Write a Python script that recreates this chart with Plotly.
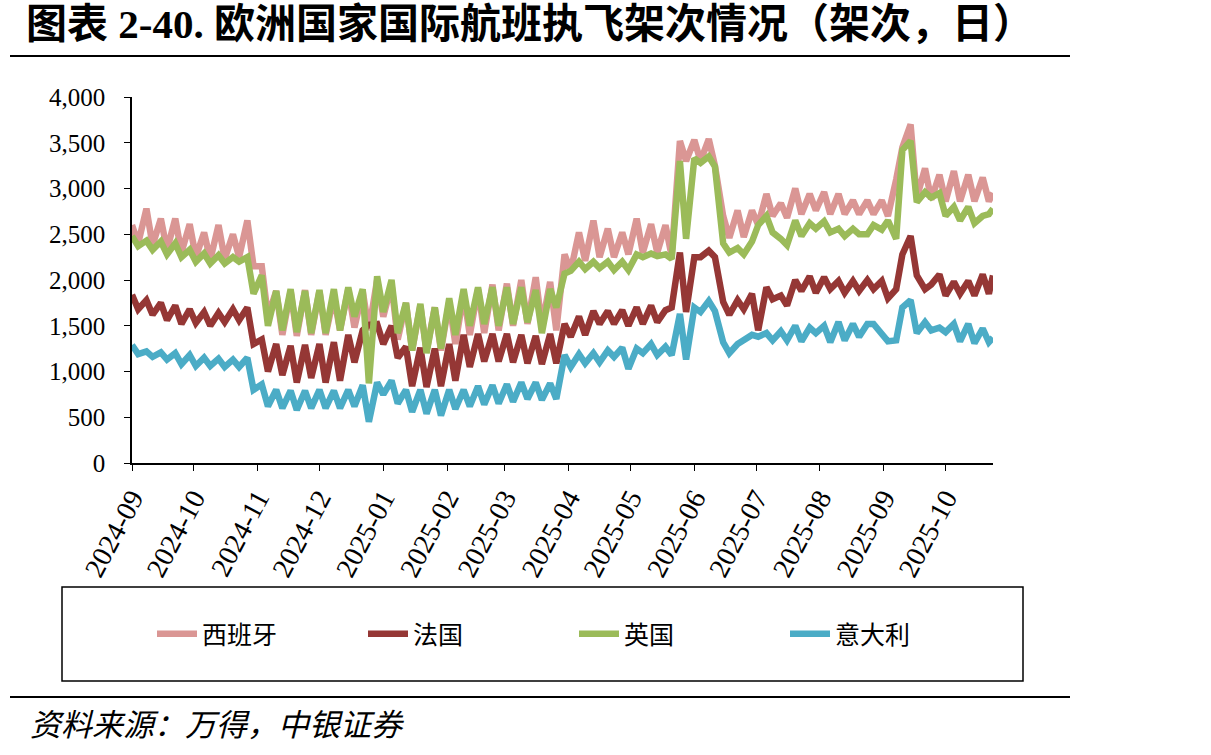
import pandas as pd
import plotly.graph_objects as go

# Sample days (offset from 2024-09-01): two points per week plus the last day
day_offsets = [d for k in range(60) for d in (7 * k, 7 * k + 3)] + [418]
start_date = "2024-09-01"

spain = [2600, 2400, 2780, 2380, 2670, 2330, 2670, 2300, 2610, 2250, 2520, 2220,
         2600, 2230, 2500, 2250, 2650, 2150, 2150, 1600, 1880, 1400, 1880, 1390,
         1890, 1400, 1880, 1400, 1820, 1450, 1900, 1480, 1880, 1450, 2000, 1600,
         1950, 1350, 1750, 1230, 1720, 1220, 1700, 1230, 1760, 1300, 1850, 1400,
         1900, 1420, 1950, 1450, 1960, 1500, 2000, 1520, 2030, 1500, 1980, 1450,
         2280, 2100, 2520, 2210, 2650, 2250, 2560, 2250, 2520, 2280, 2670, 2300,
         2610, 2300, 2600, 2260, 3520, 3300, 3530, 3300, 3540, 3250, 2700, 2460,
         2760, 2470, 2760, 2600, 2940, 2700, 2840, 2680, 3000, 2720, 2940, 2760,
         2960, 2720, 2940, 2720, 2870, 2720, 2870, 2720, 2870, 2700, 3100, 3450,
         3700, 2900, 3220, 2880, 3150, 2860, 3190, 2860, 3150, 2860, 3120, 2860,
         2950]

france = [1840, 1680, 1780, 1620, 1750, 1560, 1720, 1520, 1680, 1530, 1650, 1500,
          1640, 1540, 1680, 1560, 1700, 1300, 1350, 1000, 1300, 960, 1280, 880,
          1290, 930, 1300, 880, 1320, 900, 1400, 1100, 1450, 1510, 1520, 1300,
          1500, 1150, 1270, 840, 1260, 830, 1250, 840, 1300, 900, 1400, 1050,
          1410, 1110, 1410, 1110, 1410, 1100, 1400, 1090, 1390, 1080, 1410, 1090,
          1520, 1380, 1600, 1400, 1660, 1520, 1660, 1520, 1670, 1500, 1700, 1520,
          1720, 1540, 1670, 1700, 2300, 1650, 2250, 2250, 2320, 2250, 1760, 1620,
          1780, 1680, 1850, 1450, 1920, 1790, 1830, 1720, 2000, 1880, 2040, 1860,
          2030, 1900, 1990, 1860, 1990, 1880, 2000, 1900, 1990, 1800, 1900, 2280,
          2480, 2050, 1900, 1950, 2060, 1830, 1980, 1850, 1990, 1830, 2060, 1850,
          2050]

uk = [2480, 2370, 2430, 2330, 2420, 2280, 2400, 2250, 2330, 2200, 2290, 2180,
      2270, 2180, 2250, 2200, 2250, 1850, 2050, 1500, 1880, 1450, 1900, 1430,
      1880, 1420, 1890, 1420, 1900, 1450, 1920, 1600, 1900, 870, 2040, 1650,
      2000, 1420, 1750, 1230, 1740, 1200, 1700, 1250, 1800, 1400, 1900, 1500,
      1920, 1520, 1920, 1500, 1920, 1520, 1920, 1540, 1890, 1420, 1900, 1700,
      2070, 2100, 2200, 2120, 2200, 2130, 2200, 2110, 2200, 2110, 2280, 2250,
      2290, 2260, 2280, 2230, 3300, 2450, 3330, 3280, 3350, 3240, 2400, 2300,
      2350, 2280, 2420, 2600, 2700, 2520, 2450, 2380, 2650, 2480, 2620, 2560,
      2640, 2520, 2560, 2480, 2560, 2500, 2500, 2600, 2550, 2650, 2450, 3420,
      3520, 2850, 2960, 2900, 2950, 2700, 2800, 2650, 2800, 2620, 2700, 2720,
      2780]

italy = [1290, 1190, 1220, 1160, 1210, 1130, 1200, 1080, 1180, 1060, 1150, 1060,
         1140, 1050, 1130, 1050, 1150, 800, 860, 620, 800, 600, 790, 580,
         790, 600, 800, 600, 790, 600, 800, 620, 850, 450, 880, 750,
         900, 650, 800, 560, 800, 540, 800, 520, 800, 590, 800, 620,
         840, 640, 850, 650, 860, 670, 880, 700, 880, 690, 870, 700,
         1180, 1050, 1190, 1090, 1200, 1100, 1230, 1160, 1260, 1030, 1250, 1200,
         1300, 1180, 1270, 1180, 1630, 1130, 1700, 1650, 1770, 1660, 1320, 1200,
         1300, 1340, 1400, 1380, 1420, 1340, 1440, 1340, 1500, 1330, 1480, 1420,
         1500, 1320, 1540, 1340, 1520, 1380, 1520, 1520, 1420, 1330, 1340, 1700,
         1780, 1420, 1540, 1450, 1480, 1430, 1520, 1330, 1520, 1310, 1470, 1320,
         1370]

series_names = ["西班牙", "法国", "英国", "意大利"]
series_colors = ["#DA9694", "#953735", "#9BBB59", "#4BACC6"]
series_values = [spain, france, uk, italy]

dates = pd.to_datetime(start_date) + pd.to_timedelta(day_offsets, unit="D")

fig = go.Figure()
for name, color, vals in zip(series_names, series_colors, series_values):
    fig.add_trace(go.Scatter(x=dates, y=vals, name=name, mode="lines",
                             line=dict(color=color, width=6.5)))

# pixel helpers for paper coords (plot area 132..993 x, 97..463 y)
L, R, T, B = 132, 993, 97, 463
def px(X):
    return (X - L) / (R - L)
def py(Y):
    return (B - Y) / (B - T)

serif = "Liberation Serif, Noto Sans CJK SC"
cjk = "Noto Sans CJK SC"

fig.update_layout(
    width=1211, height=755,
    margin=dict(l=L, r=1211 - R, t=T, b=755 - B),
    paper_bgcolor="white", plot_bgcolor="white",
    showlegend=True,
    legend=dict(orientation="h", x=px(152), y=py(634), xanchor="left", yanchor="middle",
                font=dict(family=cjk, size=25, color="black"),
                itemwidth=40, entrywidth=156, entrywidthmode="pixels",
                bgcolor="rgba(0,0,0,0)"),
    xaxis=dict(type="date", range=["2024-09-01", "2025-10-24"],
               tick0="2024-09-01", dtick="M1", tickformat="%Y-%m",
               tickangle=-62, tickfont=dict(family=serif, size=28, color="black"),
               showline=True, linecolor="black", linewidth=1.5,
               ticks="outside", ticklen=6, tickcolor="black",
               showgrid=False, zeroline=False),
    yaxis=dict(range=[0, 4000], dtick=500, tickformat=",",
               tickfont=dict(family=serif, size=25, color="black"),
               ticklabelstandoff=14,
               showline=True, linecolor="black", linewidth=1.5,
               ticks="outside", ticklen=6, tickcolor="black",
               showgrid=False, zeroline=False),
    shapes=[
        dict(type="line", xref="paper", yref="paper", x0=px(10), x1=px(1070),
             y0=py(56), y1=py(56), line=dict(color="black", width=2)),
        dict(type="rect", xref="paper", yref="paper", x0=px(62), x1=px(1023),
             y0=py(681), y1=py(587), line=dict(color="black", width=1.5)),
        dict(type="line", xref="paper", yref="paper", x0=px(10), x1=px(1070),
             y0=py(697), y1=py(697), line=dict(color="black", width=2)),
    ],
    annotations=[
        dict(text="<b>图表 2-40. 欧洲国家国际航班执飞架次情况（架次，日）</b>",
             xref="paper", yref="paper", x=px(24), y=py(24), xanchor="left", yanchor="middle",
             showarrow=False, font=dict(family=serif, size=41, color="black")),
        dict(text="资料来源：万得，中银证券",
             xref="paper", yref="paper", x=px(28), y=py(722), xanchor="left", yanchor="middle",
             showarrow=False, font=dict(family=cjk, size=31, color="black", style="italic")),
    ],
)

fig.write_html("out.html")
